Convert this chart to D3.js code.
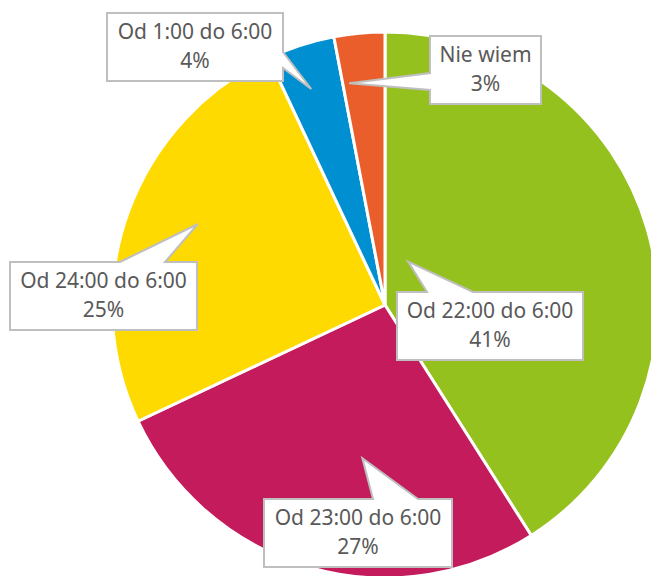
<!DOCTYPE html>
<html>
<head>
<meta charset="utf-8">
<script src="https://cdn.jsdelivr.net/npm/d3@7"></script>
<style>
  body { margin: 0; background: #fff; }
  svg { display: block; }
</style>
</head>
<body>
<div id="chart"></div>
<script>
// chart data
const categories = ["Od 22:00 do 6:00", "Od 23:00 do 6:00", "Od 24:00 do 6:00", "Od 1:00 do 6:00", "Nie wiem"];
const values = [41, 27, 25, 4, 3];
const labels = ["41%", "27%", "25%", "4%", "3%"];
const colors = ["#95C11F", "#C31B5B", "#FFDA00", "#0090D2", "#EA5E2B"];

// callout layout: box (x, y, w, h), edge carrying the pointer and its span on that edge,
// pointer tip given as fraction along the slice angle and fraction of the radius
const callouts = [
    { box: [397, 292, 186, 68], edge: "top",    span: [30, 76],  tipAngle: 0.19, tipRadius: 0.18 },
    { box: [264, 499, 188, 68], edge: "top",    span: [109, 154], tipAngle: 0.42, tipRadius: 0.567 },
    { box: [10, 262, 187, 68],  edge: "top",    span: [110, 155], tipAngle: 0.54, tipRadius: 0.747 },
    { box: [107, 13, 176, 68],  edge: "right",  span: [39, 55],  tipAngle: 0.44, tipRadius: 0.836 },
    { box: [430, 36, 111, 68],  edge: "left",   span: [37, 54],  tipAngle: 0.15, tipRadius: 0.823 }
];

const width = 651, height = 576;
const cx = 385, cy = 305, radius = 273;

const svg = d3.select("#chart")
    .append("svg")
    .attr("width", width)
    .attr("height", height);

const g = svg.append("g")
    .attr("transform", "translate(" + cx + "," + cy + ")");

const pie = d3.pie().sort(null).value(d => d);
const arcs = pie(values);
const arc = d3.arc().innerRadius(0).outerRadius(radius);

g.selectAll("path.slice")
    .data(arcs)
    .enter()
    .append("path")
    .attr("class", "slice")
    .attr("d", arc)
    .attr("fill", (d, i) => colors[i])
    .attr("stroke", "#fff")
    .attr("stroke-width", 3)
    .attr("stroke-linejoin", "round");

// build a box with a pointer wedge on one edge
function calloutPath(x, y, w, h, edge, a, b, tx, ty) {
    const pts = [[x, y]];
    if (edge === "top") pts.push([x + a, y], [tx, ty], [x + b, y]);
    pts.push([x + w, y]);
    if (edge === "right") pts.push([x + w, y + a], [tx, ty], [x + w, y + b]);
    pts.push([x + w, y + h]);
    if (edge === "bottom") pts.push([x + b, y + h], [tx, ty], [x + a, y + h]);
    pts.push([x, y + h]);
    if (edge === "left") pts.push([x, y + b], [tx, ty], [x, y + a]);
    return "M" + pts.map(p => p.join(",")).join("L") + "Z";
}

const labelGroup = svg.append("g");

arcs.forEach((d, i) => {
    const c = callouts[i];
    const ang = d.startAngle + (d.endAngle - d.startAngle) * c.tipAngle;
    const r = radius * c.tipRadius;
    const tx = cx + Math.sin(ang) * r;
    const ty = cy - Math.cos(ang) * r;
    const [x, y, w, h] = c.box;

    labelGroup.append("path")
        .attr("d", calloutPath(x, y, w, h, c.edge, c.span[0], c.span[1], tx, ty))
        .attr("fill", "#fff")
        .attr("stroke", "#BFBFBF")
        .attr("stroke-width", 2);

    const t = labelGroup.append("text")
        .attr("x", x + w / 2)
        .attr("text-anchor", "middle")
        .style("font-family", "'Noto Sans', 'Open Sans', sans-serif")
        .style("font-size", "21px")
        .style("fill", "#595959");
    t.append("tspan").attr("x", x + w / 2).attr("y", y + 26).text(categories[i]);
    t.append("tspan").attr("x", x + w / 2).attr("y", y + 55).text(labels[i]);
});
</script>
</body>
</html>
